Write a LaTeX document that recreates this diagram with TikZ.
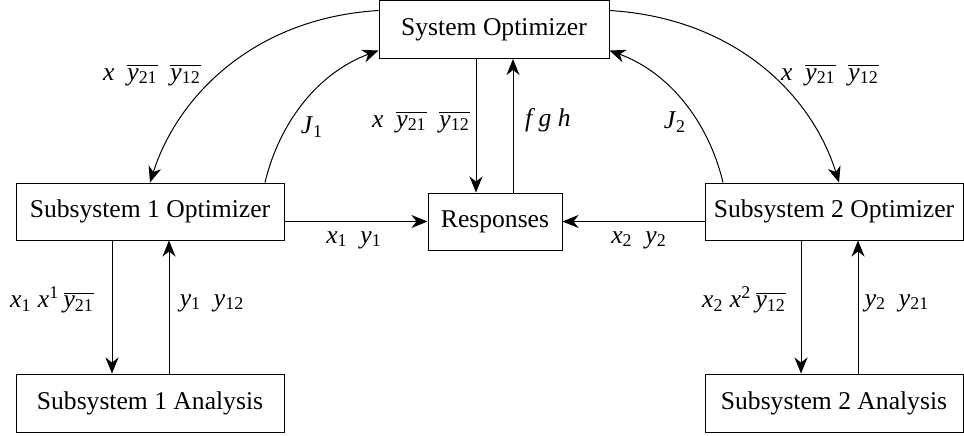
\documentclass[tikz,border=0pt]{standalone}
\usepackage{fontspec}
\setmainfont{Liberation Serif}
\usetikzlibrary{arrows.meta}
\newcommand{\vi}[2]{\textit{#1}\textsubscript{#2}}
\newcommand{\ovl}[1]{$\overline{\hbox{#1}}$}
\begin{document}
\begin{tikzpicture}[x=0.5pt,y=-0.5pt,font=\fontsize{12.8}{15}\selectfont,
  box/.style={draw,line width=0.5pt,inner sep=0pt,anchor=center},
  arr/.style={-{Stealth[length=8pt,width=6.5pt,inset=2.5pt]},line width=0.5pt},
  lbl/.style={inner sep=0pt,anchor=center}]
\useasboundingbox (0,0) rectangle (964,435);
\node[box,minimum width=115pt,minimum height=29pt] (sys) at (494,29.5) {System Optimizer};
\node[box,minimum width=134pt,minimum height=28.5pt] (s1o) at (150,211.5) {Subsystem 1 Optimizer};
\node[box,minimum width=129pt,minimum height=28.5pt] (s2o) at (834,211.5) {Subsystem 2 Optimizer};
\node[box,minimum width=67pt,minimum height=28.5pt] (resp) at (495,221.5) {Responses};
\node[box,minimum width=134pt,minimum height=29pt] (s1a) at (150,403) {Subsystem 1 Analysis};
\node[box,minimum width=129pt,minimum height=29pt] (s2a) at (834,403) {Subsystem 2 Analysis};
% system <-> responses
\draw[arr] ([xshift=-9pt]sys.south) -- ([xshift=-9pt]sys.south |- resp.north);
\draw[arr] ([xshift=9.5pt]sys.south |- resp.north) -- ([xshift=9.5pt]sys.south);
% optimizers -> responses
\draw[arr] (resp.west -| s1o.east) -- (resp.west);
\draw[arr] (resp.east -| s2o.west) -- (resp.east);
% subsystem 1 opt <-> analysis
\draw[arr] ([xshift=-19pt]s1o.south) -- ([xshift=-19pt]s1o.south |- s1a.north);
\draw[arr] ([xshift=9.5pt]s1o.south |- s1a.north) -- ([xshift=9.5pt]s1o.south);
% subsystem 2 opt <-> analysis
\draw[arr] ([xshift=-16.5pt]s2o.south) -- ([xshift=-16.5pt]s2o.south |- s2a.north);
\draw[arr] ([xshift=12pt]s2o.south |- s2a.north) -- ([xshift=12pt]s2o.south);
% arcs
\draw[arr] ([yshift=9.5pt]sys.west) .. controls (255,18) and (178,95) .. (s1o.north);
\draw[arr] ([xshift=57.5pt]s1o.north) .. controls (280,120) and (320,72) .. ([yshift=-10.5pt]sys.west);
\draw[arr] ([yshift=9.5pt]sys.east) .. controls (735,18) and (812,95) .. ([xshift=2.5pt]s2o.north);
\draw[arr] ([xshift=-55.5pt]s2o.north) .. controls (708,120) and (668,72) .. ([yshift=-10.5pt]sys.east);
% labels
\node[lbl] (l1) at (152,75) {\textit{x}\ \ \ovl{\vi{y}{21}}\ \ \ovl{\vi{y}{12}}};
\node[lbl] (l2) at (830,75) {\textit{x}\ \ \ovl{\vi{y}{21}}\ \ \ovl{\vi{y}{12}}};
\node[lbl] (l3) at (312,127) {\vi{J}{1}};
\node[lbl] (l4) at (675,122) {\vi{J}{2}};
\node[lbl] (l5) at (421,122) {\textit{x}\ \ \ovl{\vi{y}{21}}\ \ \ovl{\vi{y}{12}}};
\node[lbl] (l6) at (548,120) {\textit{f g h}};
\node[lbl] (l7) at (354,240) {\vi{x}{1}\ \ \vi{y}{1}};
\node[lbl] (l8) at (639,240) {\vi{x}{2}\ \ \vi{y}{2}};
\node[lbl] (l9) at (52,300) {\vi{x}{1}\ \textit{x}\textsuperscript{1}\,\ovl{\vi{y}{21}}};
\node[lbl] (l10) at (212,303) {\vi{y}{1}\ \ \vi{y}{12}};
\node[lbl] (l11) at (744,300) {\vi{x}{2}\ \textit{x}\textsuperscript{2}\,\ovl{\vi{y}{12}}};
\node[lbl] (l12) at (897,303) {\vi{y}{2}\ \ \vi{y}{21}};
\end{tikzpicture}
\end{document}
